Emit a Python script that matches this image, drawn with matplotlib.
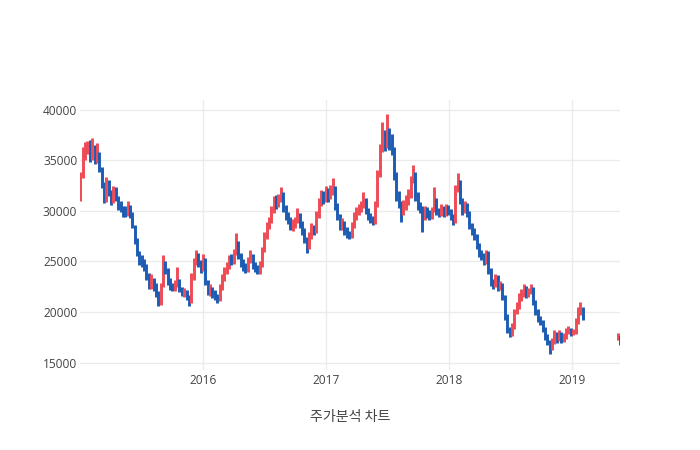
import matplotlib
matplotlib.use("Agg")
import matplotlib.pyplot as plt
import matplotlib.dates as mdates
import numpy as np
import pandas as pd

# weekly OHLC (Jan 2015 - Feb 2019, then May 2019)
dates = list(pd.date_range("2015-01-02", periods=214, freq="7D")) + \
    [pd.Timestamp("2019-05-16"), pd.Timestamp("2019-05-22")]

opens = [
    31300, 33400, 35600, 36100, 36400, 35200, 36300, 35000, 35500, 34100,
    32600, 31100, 32700, 31700, 31000, 32100, 31300, 30500, 30200, 29900,
    29700, 30400, 29600, 28400, 27100, 25800, 24900, 24700, 24400, 23400,
    22700, 23000, 22400, 21900, 21000, 22700, 24600, 24000, 23000, 22500,
    22300, 22700, 23000, 22300, 21800, 22000, 21500, 21000, 23400, 25100,
    25500, 24800, 24200, 25100, 23000, 21900, 22300, 21800, 21600, 21300,
    22400, 23400, 24100, 24400, 25300, 24900, 25900, 26800, 25500, 24800,
    24500, 24100, 25000, 25500, 24500, 24300, 23900, 24600, 26100, 27400,
    28600, 29000, 30100, 31000, 30700, 31100, 31500, 30300, 29500, 29200,
    28400, 28800, 29000, 29600, 28700, 28000, 27100, 26500, 27500, 28300,
    28000, 29600, 30800, 31500, 31100, 31800, 31500, 32100, 32200, 30500,
    29500, 28400, 28800, 28000, 27900, 27500, 28500, 29400, 30000, 30200,
    30600, 31000, 30000, 29500, 29200, 28900, 30600, 33600, 36100, 37500,
    36400, 37900, 36500, 36000, 33500, 31500, 30700, 29900, 30400, 31000,
    31600, 33000, 33500, 31500, 30500, 30200, 29400, 30000, 29800, 29400,
    30100, 31000, 30000, 29700, 30200, 29700, 30300, 30000, 29500, 29000,
    32000, 32800, 31000, 30000, 30500, 29800, 28500, 28000, 27500, 26500,
    25800, 25500, 24900, 25800, 24000, 23000, 22700, 23300, 22400, 22700,
    21500, 19500, 18200, 17700, 18500, 20000, 20500, 21400, 21800, 22300,
    21700, 22000, 22300, 21000, 20000, 19300, 19000, 18300, 17500, 17000,
    16400, 17000, 17800, 17300, 17800, 17200, 17500, 18000, 18200, 17900,
    18000, 19000, 20000, 20300,
    17300, 17500]

highs = [
    33800, 36300, 36800, 36900, 37000, 37200, 36500, 36700, 35800, 34300,
    32800, 33300, 33000, 32000, 32400, 32300, 31500, 31000, 30500, 30500,
    31000, 30600, 29900, 28600, 27300, 26000, 25600, 25200, 24700, 23800,
    23700, 23400, 22900, 22100, 22900, 25600, 25000, 24300, 23400, 22900,
    23200, 24400, 23300, 22500, 22400, 22200, 21700, 23800, 25300, 26100,
    25800, 25100, 25700, 25300, 23200, 22800, 22500, 22200, 21800, 22800,
    23700, 24400, 24900, 25600, 25700, 26200, 27800, 27000, 25800, 25200,
    24800, 25400, 26100, 25700, 24900, 24600, 25000, 26400, 27900, 28900,
    29400, 30500, 31500, 31600, 31700, 32300, 31800, 30600, 29900, 29400,
    29200, 29400, 30300, 29800, 29000, 28300, 27400, 27900, 28800, 28600,
    30000, 31300, 32000, 31900, 32400, 32200, 32500, 33200, 32400, 30800,
    29700, 29300, 29000, 28400, 28000, 28900, 29900, 30400, 30700, 31000,
    31800, 31300, 30300, 29800, 29500, 31000, 34000, 36600, 38800, 38000,
    39600, 38200, 37600, 36300, 33800, 31900, 31000, 31100, 31600, 32100,
    33400, 34500, 33800, 31800, 30900, 30500, 30500, 30400, 30100, 30400,
    32300, 31300, 30300, 30700, 30500, 30700, 30600, 30200, 29700, 32500,
    33700, 33000, 31300, 31000, 30800, 30000, 28800, 28300, 27700, 26800,
    26100, 25800, 26100, 26000, 24300, 23300, 23700, 23600, 23100, 22900,
    21700, 19800, 18500, 18900, 20300, 21000, 21900, 22300, 22800, 22600,
    22400, 22800, 22500, 21200, 20300, 19600, 19200, 18500, 17800, 17200,
    17400, 18200, 18000, 18200, 18000, 17900, 18400, 18600, 18400, 18300,
    19400, 20500, 21000, 20500,
    17900, 17600]

lows = [
    31000, 33200, 35000, 35600, 34800, 35000, 34600, 34700, 33800, 32200,
    30800, 30900, 31500, 30600, 30800, 31000, 30100, 29900, 29400, 29400,
    29500, 29300, 28300, 26700, 25500, 24600, 24400, 24000, 23200, 22300,
    22300, 22100, 21500, 20600, 20700, 22500, 23700, 22700, 22200, 22100,
    22100, 22500, 22000, 21600, 21500, 21200, 20600, 20900, 23200, 24600,
    24400, 23800, 24000, 22700, 21700, 21600, 21400, 21200, 20900, 21100,
    22200, 23100, 23700, 24200, 24600, 24700, 25600, 25200, 24400, 24000,
    23800, 23900, 24800, 24200, 23900, 23700, 23700, 24400, 25900, 27200,
    28200, 28800, 29800, 30200, 30400, 30900, 29900, 29100, 28700, 28100,
    28000, 28300, 28800, 28300, 27600, 26800, 25800, 26200, 27200, 27600,
    27800, 29300, 30500, 30700, 30900, 30900, 31200, 31600, 30100, 29100,
    28100, 28100, 27600, 27300, 27200, 27300, 28300, 29100, 29600, 29900,
    30300, 29700, 29100, 28800, 28600, 28700, 30400, 33300, 35800, 35900,
    36200, 36000, 35500, 33000, 31000, 30300, 28900, 29600, 30100, 30600,
    31300, 32700, 31000, 30100, 29800, 27900, 29100, 29300, 29100, 29200,
    29900, 29600, 29400, 29500, 29400, 29500, 29600, 29100, 28600, 28800,
    31800, 30700, 29600, 29800, 29400, 28200, 27600, 27100, 26200, 25400,
    25100, 24600, 24700, 23700, 22600, 22300, 22500, 22100, 22200, 21200,
    19200, 17900, 17500, 17600, 18300, 19800, 20300, 21100, 21500, 21400,
    21500, 21800, 20700, 19700, 19000, 18700, 18000, 17200, 16700, 15800,
    16200, 16800, 16900, 17100, 16900, 17000, 17300, 17800, 17600, 17700,
    17800, 18800, 19700, 19200,
    17200, 16700]

closes = [
    33500, 35500, 36000, 36500, 35300, 36200, 35000, 35600, 34200, 32500,
    31200, 32600, 31800, 31000, 32000, 31400, 30500, 30300, 29900, 29800,
    30300, 29700, 28500, 27000, 25800, 25000, 24800, 24500, 23500, 22800,
    23000, 22500, 22000, 21000, 22600, 24500, 24000, 23000, 22500, 22400,
    22700, 23100, 22300, 21900, 22000, 21500, 21000, 23500, 25000, 25500,
    24800, 24200, 25000, 23000, 22000, 22300, 21800, 21600, 21400, 22500,
    23500, 24000, 24500, 25300, 25000, 25800, 26800, 25500, 24800, 24500,
    24200, 25000, 25500, 24500, 24300, 24000, 24500, 26000, 27500, 28500,
    29000, 30000, 31000, 30800, 31200, 31500, 30300, 29500, 29200, 28500,
    28800, 29000, 29500, 28700, 28000, 27200, 26500, 27500, 28300, 28000,
    29500, 30800, 31500, 31200, 31800, 31500, 32000, 32200, 30500, 29500,
    28500, 28800, 28000, 27800, 27500, 28500, 29500, 30000, 30300, 30500,
    31000, 30000, 29500, 29200, 29000, 30500, 33500, 36000, 37500, 36500,
    37800, 36500, 36000, 33500, 31500, 30800, 30000, 30500, 31000, 31500,
    33000, 33500, 31500, 30500, 30200, 29500, 30000, 29800, 29500, 30000,
    31000, 30000, 29800, 30200, 29800, 30300, 30000, 29500, 29000, 32000,
    32800, 31000, 30000, 30500, 29800, 28500, 28000, 27500, 26500, 25800,
    25500, 25000, 25800, 24000, 23000, 22800, 23300, 22500, 22700, 21500,
    19500, 18200, 17800, 18500, 20000, 20500, 21500, 21800, 22300, 21800,
    22000, 22300, 21000, 20000, 19300, 19000, 18300, 17500, 17000, 16500,
    17000, 17800, 17300, 17800, 17200, 17500, 18000, 18200, 17900, 18000,
    19000, 20000, 20300, 19500,
    17800, 16900]

year_ticks = ["2016-01-01", "2017-01-01", "2018-01-01", "2019-01-01"]

up_color = "#ef4b55"
down_color = "#1c5cb2"

fig = plt.figure(figsize=(7, 4.5), dpi=100)
ax = fig.add_axes([80 / 700, 80 / 450, 540 / 700, 270 / 450])

x = mdates.date2num(dates)
o = np.array(opens)
h = np.array(highs)
l = np.array(lows)
c = np.array(closes)
cols = np.where(c >= o, up_color, down_color)

ax.vlines(x, l, h, colors=cols, linewidth=2.1, zorder=3)
ax.hlines(o, x - 2.5, x, colors=cols, linewidth=1.6, zorder=3)
ax.hlines(c, x, x + 2.5, colors=cols, linewidth=1.6, zorder=3)

ax.set_xlim(mdates.date2num(pd.Timestamp("2014-12-31 18:00")),
            mdates.date2num(pd.Timestamp("2019-05-23")))
ax.set_ylim(14260, 40940)
ax.set_yticks([15000, 20000, 25000, 30000, 35000, 40000])
ax.set_xticks(mdates.date2num(pd.to_datetime(year_ticks)))
ax.xaxis.set_major_formatter(mdates.DateFormatter("%Y"))

ax.grid(True, color="#ebebeb", linewidth=1)
ax.set_axisbelow(True)
for s in ax.spines.values():
    s.set_visible(False)
ax.tick_params(length=0, labelsize=8.6, labelcolor="#444444", pad=3)
for lab in ax.get_xticklabels() + ax.get_yticklabels():
    lab.set_family(["Open Sans", "DejaVu Sans"])
ax.tick_params(axis="y", pad=2)

fig.text(350 / 700, 1 - 417 / 450, "주가분석 차트", ha="center", va="center",
         fontsize=10.1, color="#444444",
         family=["Noto Sans CJK KR", "DejaVu Sans"])

fig.savefig("out.png", dpi=100)
